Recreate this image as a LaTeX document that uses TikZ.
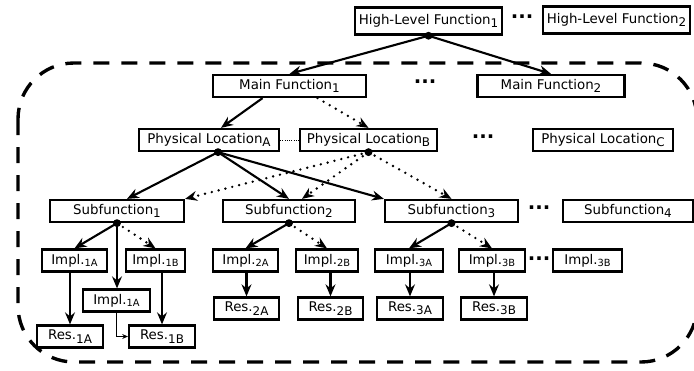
\documentclass[tikz,border=0pt]{standalone}
\usepackage{fontspec}
\setmainfont{DejaVu Sans}
\usetikzlibrary{calc,arrows.meta}
\tikzset{every node/.append style={font=\fontsize{9.5}{11}\selectfont}}
\tikzset{
  fnbox/.style={draw, line width=1.6pt, minimum height=0.55cm, inner sep=1pt},
  tallbox/.style={fnbox, minimum height=0.68cm},
  bw/.style={minimum width=#1*0.025cm},
  arr/.style={line width=1.5pt, -{Stealth[length=8.5pt, width=7pt, inset=2.8pt]}},
  dotarr/.style={arr, dash pattern=on 0pt off 5pt, line cap=round, line width=1.9pt},
  thinarr/.style={line width=0.6pt, -{Stealth[length=4pt, width=3.5pt]}},
  gap/.style={font=\fontsize{14}{14}\selectfont\bfseries, inner sep=0pt},
  junc/.style={fill=black}
}
\newcommand{\sbs}[1]{\raisebox{-0.45ex}{\fontsize{8.5}{9}\selectfont#1}}
\newcommand{\ssb}[1]{\raisebox{-0.3ex}{\fontsize{7}{8}\selectfont#1}}

\begin{document}
\begin{tikzpicture}[x=0.025cm, y=-0.025cm, >=stealth]
    \useasboundingbox (0,0) rectangle (694,370);
    \draw[line width=2.4pt, dash pattern=on 0.4cm off 0.3cm, rounded corners=1.4cm] (18,63) rectangle (697,362);

    \node[tallbox, bw=147] (hlf1) at (428.5,21) {High-Level Function\sbs{1}};
    \node[gap] (dhlf) at (522,19) {···};
    \node[tallbox, bw=147] (hlf2) at (616.5,20) {High-Level Function\sbs{2}};

    \node[fnbox, bw=153] (main1) at (289.5,86) {Main Function\sbs{1}};
    \node[gap] (dmain) at (425,84) {···};
    \node[fnbox, bw=147] (main2) at (551,86) {Main Function\sbs{2}};

    \node[fnbox, bw=140] (pla) at (209,140) {Physical Location\sbs{A}};
    \node[fnbox, bw=137] (plb) at (368.5,140) {Physical Location\sbs{B}};
    \node[gap] (dpl) at (483,139) {···};
    \node[fnbox, bw=140] (plc) at (603,140) {Physical Location\sbs{C}};

    \node[fnbox, bw=134] (sub1) at (117,211) {Subfunction\sbs{1}};
    \node[fnbox, bw=132] (sub2) at (289,211) {Subfunction\sbs{2}};
    \node[fnbox, bw=133] (sub3) at (451.5,211) {Subfunction\sbs{3}};
    \node[gap] (dsub) at (539,210) {···};
    \node[fnbox, bw=130] (sub4) at (628,211) {Subfunction\sbs{4}};

    \node[fnbox, bw=65] (impl1a) at (74.5,260.5) {Impl.\ssb{1A}};
    \node[fnbox, bw=59] (impl1b) at (155.5,260.5) {Impl.\ssb{1B}};
    \node[fnbox, bw=67] (impl1c) at (116.5,300.5) {Impl.\ssb{1A}};
    \node[fnbox, bw=66] (res1a) at (70,336.5) {Res.\sbs{1A}};
    \node[fnbox, bw=66] (res1b) at (162,336.5) {Res.\sbs{1B}};

    \node[fnbox, bw=65] (impl2a) at (245.5,260.5) {Impl.\ssb{2A}};
    \node[fnbox, bw=62] (impl2b) at (327,260.5) {Impl.\ssb{2B}};
    \node[fnbox, bw=65] (res2a) at (246.5,308.5) {Res.\sbs{2A}};
    \node[fnbox, bw=65] (res2b) at (330.5,308.5) {Res.\sbs{2B}};

    \node[fnbox, bw=68] (impl3a) at (409,260.5) {Impl.\ssb{3A}};
    \node[fnbox, bw=66] (impl3b) at (492,260.5) {Impl.\ssb{3B}};
    \node[gap] (dimpl) at (539,261) {···};
    \node[fnbox, bw=69] (impl3c) at (587.5,260.5) {Impl.\ssb{3B}};
    \node[fnbox, bw=66] (res3a) at (410,308.5) {Res.\sbs{3A}};
    \node[fnbox, bw=66] (res3b) at (494,308.5) {Res.\sbs{3B}};

    \coordinate (jhlf) at (hlf1.south);
    \coordinate (jpla) at ($(pla.south)+(9,0)$);
    \coordinate (jplb) at (plb.south);
    \coordinate (jsub1) at (sub1.south);
    \coordinate (jsub2) at (sub2.south);
    \coordinate (jsub3) at (sub3.south);

    \draw[arr] (jhlf) -- (main1.north);
    \draw[arr] (jhlf) -- (main2.north);
    \draw[arr] ($(main1.south)+(-27,0)$) -- ($(pla.north)+(12,0)$);
    \draw[dotarr] ($(main1.south)+(28,0)$) -- (plb.north);
    \draw[line width=0.6pt, densely dotted] (pla) -- (plb);

    \draw[arr] (jpla) -- ($(sub1.north)+(10,0)$);
    \draw[arr] (jpla) -- (sub2.north);
    \draw[arr] (jpla) -- (sub3.north west);
    \draw[dotarr] (jplb) -- (sub1.north east);
    \draw[dotarr] (jplb) -- ($(sub2.north)+(13,0)$);
    \draw[dotarr] (jplb) -- (sub3.north);

    \draw[arr] (jsub1) -- (impl1a.north);
    \draw[arr] (jsub1) -- (impl1c.north -| jsub1);
    \draw[dotarr] (jsub1) -- (impl1b.north);
    \draw[arr] (jsub2) -- (impl2a.north);
    \draw[dotarr] (jsub2) -- (impl2b.north);
    \draw[arr] (jsub3) -- (impl3a.north);
    \draw[dotarr] (jsub3) -- (impl3b.north);

    \draw[arr] (impl1a.south -| res1a.north) -- (res1a.north);
    \draw[arr] (impl1b.south -| res1b.north) -- (res1b.north);
    \draw[thinarr] (impl1c.south) |- (res1b.west);
    \draw[arr] (impl2a.south -| res2a.north) -- (res2a.north);
    \draw[arr] (impl2b.south -| res2b.north) -- (res2b.north);
    \draw[arr] (impl3a.south -| res3a.north) -- (res3a.north);
    \draw[arr] (impl3b.south -| res3b.north) -- (res3b.north);

    \foreach \j in {jhlf, jpla, jplb, jsub1, jsub2, jsub3}
        \fill[junc] (\j) circle (2.8pt);
\end{tikzpicture}
\end{document}
